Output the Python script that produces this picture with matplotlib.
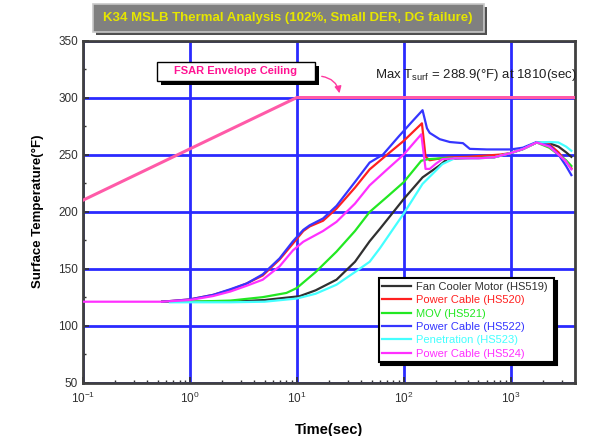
import matplotlib
matplotlib.use("Agg")
import matplotlib.pyplot as plt
from matplotlib.patches import Rectangle
from matplotlib.ticker import MultipleLocator, LogLocator

plt.rcParams['font.family'] = ['Liberation Sans', 'DejaVu Sans']

# Time (sec) / surface temperature (F)
t_hs519 = [0.55, 1, 2.4, 5, 10.6, 15, 23.5, 35, 48, 60, 100, 150, 215, 255, 400, 700, 1000, 1300, 1750, 2300, 2800, 3300, 3700]
T_hs519 = [121, 121, 121, 122.5, 125.8, 131, 140.3, 156, 174, 185, 211, 230, 240.3, 246, 247, 247.6, 251.3, 254.8, 260.6, 260, 257, 252, 248]

t_hs520 = [0.55, 1, 1.65, 2.4, 3.4, 4.8, 6.9, 9.2, 11.5, 13.2, 17.6, 23.5, 35, 48, 70, 100, 148, 160, 175, 200, 260, 400, 800, 1000, 1300, 1750, 2300, 2800, 3300, 3700]
T_hs520 = [121, 123, 127, 131.5, 137, 144, 158, 172, 183, 187, 192, 202.6, 221, 237, 250, 262, 277.4, 248, 245, 246, 247.5, 248, 250, 251.3, 254.8, 260.6, 259, 252, 244, 238]

t_hs521 = [0.55, 1, 2.4, 4.8, 8, 10, 15, 23.5, 35, 48, 70, 100, 146, 170, 250, 500, 700, 1000, 1300, 1750, 2300, 2800, 3300, 3700]
T_hs521 = [121, 121, 122, 125, 128.7, 133, 147, 164.9, 183, 199.7, 213, 225.8, 244.6, 246, 247, 247, 247.6, 251.3, 254.8, 260.6, 256, 250, 245, 240]

t_hs522 = [0.55, 1, 1.65, 2.4, 3.4, 4.8, 6.9, 9.2, 11.5, 13.2, 17.6, 23.5, 35, 48, 64, 90, 120, 150, 165, 175, 217, 270, 358, 415, 600, 1000, 1300, 1750, 2300, 2800, 3300, 3700]
T_hs522 = [121, 123, 127, 132, 137, 145, 159, 174, 184, 188, 194, 205, 226, 243, 250, 266, 279, 288.9, 273, 269, 263.5, 261, 260, 255, 254.5, 254.5, 256, 261, 258, 250, 240, 232]

t_hs523 = [0.65, 1, 2.4, 5, 10, 15, 23.5, 35, 48, 60, 100, 150, 230, 300, 500, 700, 1000, 1300, 1750, 2300, 2800, 3300, 3700]
T_hs523 = [120.5, 120.5, 120.5, 121, 123.8, 128, 135.9, 147, 156, 168, 198.3, 224.3, 241.7, 246.7, 246.7, 247.6, 251.3, 254.8, 260.6, 261, 260.6, 257, 253.3]

t_hs524 = [0.1, 0.55, 1, 1.65, 2.4, 3.4, 4.8, 6.9, 9.2, 11.5, 17.6, 23.5, 35, 48, 70, 100, 146, 160, 175, 200, 230, 300, 500, 700, 1000, 1300, 1750, 2300, 2800, 3300, 3700]
T_hs524 = [121, 121, 122.5, 126, 130, 135, 140.3, 152, 166, 173.6, 183, 191, 207, 223, 237, 250, 267.8, 237.4, 237.4, 242, 246, 246.7, 246.7, 247.6, 251.3, 254.8, 260.6, 257, 250, 244, 237]

t_fsar = [0.1, 10, 4000]
T_fsar = [210, 300, 300]

series = [
    ("Fan Cooler Motor (HS519)", t_hs519, T_hs519, "#303030"),
    ("Power Cable (HS520)", t_hs520, T_hs520, "#ff2020"),
    ("MOV (HS521)", t_hs521, T_hs521, "#22e822"),
    ("Power Cable (HS522)", t_hs522, T_hs522, "#3535ff"),
    ("Penetration (HS523)", t_hs523, T_hs523, "#44ffff"),
    ("Power Cable (HS524)", t_hs524, T_hs524, "#ff30ff"),
]

W, H = 599, 436
fig = plt.figure(figsize=(W / 100, H / 100), dpi=100)
ax = fig.add_axes([83 / W, 1 - 382.7 / H, (575 - 83) / W, (382.7 - 40.5) / H])

ax.set_xscale('log')
ax.set_xlim(0.1, 4000)
ax.set_ylim(50, 350)
ax.yaxis.set_major_locator(MultipleLocator(50))
ax.yaxis.set_minor_locator(MultipleLocator(25))
ax.xaxis.set_major_locator(LogLocator(base=10))
ax.xaxis.set_minor_locator(LogLocator(base=10, subs=range(2, 10)))
ax.grid(True, which='major', color='#2a2aff', lw=2)
ax.set_axisbelow(True)

ax.plot(t_fsar, T_fsar, color='#ff5aa8', lw=2.2, zorder=3)
for label, t, T, c in series:
    ax.plot(t, T, color=c, lw=1.6, label=label, zorder=4)

for s in ax.spines.values():
    s.set_color('#404040')
    s.set_linewidth(2)
ax.tick_params(which='both', direction='in', colors='#303030', labelsize=8.5)
ax.tick_params(which='major', length=4, width=1.2)
ax.tick_params(which='minor', length=2.5, width=1)
ax.tick_params(axis='x', pad=6)

ax.set_xlabel('Time(sec)', fontsize=10.5, fontweight='bold', labelpad=12)
ax.set_ylabel('Surface Temperature(\u00b0F)', fontsize=9.5, fontweight='bold', labelpad=10)

leg = ax.legend(loc='lower left', bbox_to_anchor=((373 - 83) / 492, (382.7 - 368) / 342.2,
                (560 - 373) / 492, (368 - 273) / 342.2), mode='expand',
                fontsize=8, labelcolor='linecolor', fancybox=False, framealpha=1,
                edgecolor='black', shadow={'color': 'black', 'alpha': 1},
                handlelength=2.6, handletextpad=0.4, borderpad=0.35, labelspacing=0.3)
leg.get_frame().set_linewidth(1.5)


def px(x, y):
    return x / W, 1 - y / H


# title box
fig.patches.append(Rectangle(px(96, 35), 391 / W, 28 / H, transform=fig.transFigure,
                             facecolor='#505050', edgecolor='none'))
fig.patches.append(Rectangle(px(93, 32), 391 / W, 28 / H, transform=fig.transFigure,
                             facecolor='#808080', edgecolor='#c8c8c8', lw=1.2))
fig.text(*px(288, 18.5), 'K34 MSLB Thermal Analysis (102%, Small DER, DG failure)',
         ha='center', va='center', color='#e6e600', fontsize=9.5, fontweight='bold')

# FSAR annotation box
fig.patches.append(Rectangle(px(161, 85), 158 / W, 19 / H, transform=fig.transFigure,
                             facecolor='black', edgecolor='none', zorder=5))
fig.patches.append(Rectangle(px(157, 81), 158 / W, 19 / H, transform=fig.transFigure,
                             facecolor='white', edgecolor='black', lw=1, zorder=6))
fig.text(*px(236, 71.5), 'FSAR Envelope Ceiling', ha='center', va='center',
         color='#ff1493', fontsize=8, fontweight='bold', zorder=7)
ax.annotate('', xy=(340, H - 96), xycoords='figure pixels',
            xytext=(319, H - 76), textcoords='figure pixels',
            arrowprops=dict(arrowstyle='-|>', color='#ff3aa0', lw=1,
                            connectionstyle='arc3,rad=-0.4'))

fig.text(*px(375, 75), 'Max T$_{\\mathregular{surf}}$ = 288.9(\u00b0F) at 1810(sec)',
         ha='left', va='center', fontsize=9.5, color='#202020')

fig.savefig('out.png', dpi=100)
